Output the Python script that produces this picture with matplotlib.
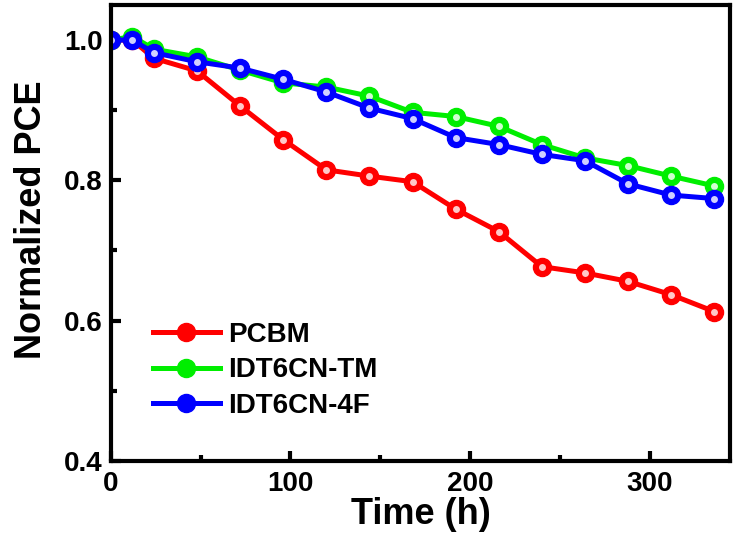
import matplotlib
matplotlib.use("Agg")
import matplotlib.pyplot as plt
from matplotlib.ticker import MultipleLocator

plt.rcParams['font.family'] = ['Liberation Sans', 'DejaVu Sans']
plt.rcParams['font.weight'] = 'bold'

time_h = [0, 12, 24, 48, 72, 96, 120, 144, 168, 192, 216, 240, 264, 288, 312, 336]
pcbm = [1.0, 1.0, 0.974, 0.956, 0.906, 0.858, 0.815, 0.806, 0.798, 0.759, 0.727,
        0.677, 0.668, 0.656, 0.637, 0.613]
idt_tm = [1.0, 1.005, 0.987, 0.976, 0.957, 0.939, 0.933, 0.92, 0.897, 0.891, 0.877,
          0.851, 0.832, 0.821, 0.806, 0.792]
idt_4f = [1.0, 1.0, 0.982, 0.969, 0.96, 0.944, 0.926, 0.903, 0.888, 0.861, 0.851,
          0.837, 0.828, 0.795, 0.779, 0.774]

series = [
    ('PCBM', pcbm, '#ff0000', '#ffc8c8'),
    ('IDT6CN-TM', idt_tm, '#00ee00', '#d0ffd0'),
    ('IDT6CN-4F', idt_4f, '#0000ff', '#d0d0ff'),
]

fig = plt.figure(figsize=(7.34, 5.52), dpi=100)
ax = fig.add_axes([0.151, 0.165, 0.844, 0.826])

for name, vals, col, light in series:
    ax.plot(time_h, vals, color=col, lw=3.6, marker='o', ms=13,
            mec=col, mfc=col, label=name)
    # glossy highlight on markers
    ax.plot(time_h, vals, ls='none', marker='o', ms=5, mfc=light, mec='none')

ax.set_xlim(0, 345)
ax.set_ylim(0.4, 1.05)
ax.xaxis.set_major_locator(MultipleLocator(100))
ax.xaxis.set_minor_locator(MultipleLocator(50))
ax.yaxis.set_major_locator(MultipleLocator(0.2))
ax.yaxis.set_minor_locator(MultipleLocator(0.1))

for s in ax.spines.values():
    s.set_linewidth(3)
ax.tick_params(which='major', direction='in', length=7, width=3, labelsize=20, pad=7)
ax.tick_params(axis='y', which='major', pad=6)
ax.tick_params(which='minor', direction='in', length=4, width=3)
ax.tick_params(top=False, right=False, which='both')

ax.set_xlabel('Time (h)', fontsize=26, fontweight='bold', labelpad=0)
ax.set_ylabel('Normalized PCE', fontsize=26, fontweight='bold')
ax.yaxis.set_label_coords(-0.10, 0.53)

leg = ax.legend(loc='upper left', bbox_to_anchor=(0.05, 0.33), frameon=False,
                fontsize=20, handlelength=2.4, handletextpad=0.3, labelspacing=0.35,
                borderaxespad=0)
for h in leg.legend_handles:
    h.set_markersize(13)

fig.savefig('out.png', dpi=100)
